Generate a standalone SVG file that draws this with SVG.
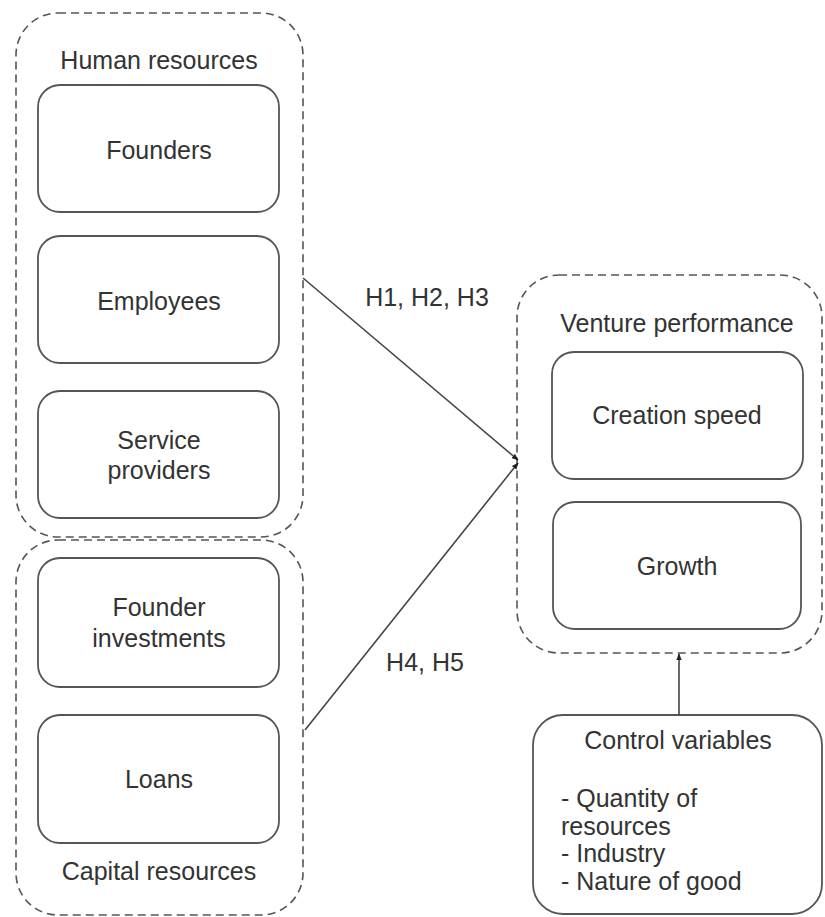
<svg xmlns="http://www.w3.org/2000/svg" width="825" height="917" viewBox="0 0 825 917">
<style>
.grp{fill:none;stroke:#555;stroke-width:1.6;stroke-dasharray:8 5}
.box{fill:#fff;stroke:#555;stroke-width:1.8}
.t{font-family:"Liberation Sans",Arial,sans-serif;font-size:25px;fill:#333;text-anchor:middle;dominant-baseline:central}
.tl{font-family:"Liberation Sans",Arial,sans-serif;font-size:25px;fill:#333}
.edge{fill:none;stroke:#444;stroke-width:1.6}
</style>
<defs>
<marker id="ah" viewBox="0 0 10 10" refX="9" refY="5" markerWidth="7" markerHeight="7" orient="auto" markerUnits="userSpaceOnUse">
<path d="M0,1 L10,5 L0,9 z" fill="#222"/>
</marker>
</defs>
<rect width="825" height="917" fill="#fff"/>
<g id="human-resources">
<rect class="grp" x="16" y="13" width="287" height="524" rx="42"/>
<text class="t" x="159" y="60">Human resources</text>
</g>
<g id="capital-resources">
<rect class="grp" x="16" y="540" width="287" height="375" rx="42"/>
<text class="t" x="159" y="871">Capital resources</text>
</g>
<g id="venture-performance">
<rect class="grp" x="517" y="275" width="305" height="378" rx="42"/>
<text class="t" x="677" y="323">Venture performance</text>
</g>
<g id="founders">
<rect class="box" x="38" y="85" width="241" height="127" rx="22"/>
<text class="t" x="159" y="150">Founders</text>
</g>
<g id="employees">
<rect class="box" x="38" y="236" width="241" height="127" rx="22"/>
<text class="t" x="159" y="301">Employees</text>
</g>
<g id="service-providers">
<rect class="box" x="38" y="391" width="241" height="127" rx="22"/>
<text class="t" x="159" y="440">Service</text>
<text class="t" x="159" y="470">providers</text>
</g>
<g id="founder-investments">
<rect class="box" x="38" y="558" width="241" height="129" rx="22"/>
<text class="t" x="159" y="607">Founder</text>
<text class="t" x="159" y="638">investments</text>
</g>
<g id="loans">
<rect class="box" x="38" y="715" width="241" height="128" rx="22"/>
<text class="t" x="159" y="779">Loans</text>
</g>
<g id="creation-speed">
<rect class="box" x="552" y="352" width="251" height="127" rx="22"/>
<text class="t" x="677" y="415">Creation speed</text>
</g>
<g id="growth">
<rect class="box" x="553" y="502" width="248" height="127" rx="22"/>
<text class="t" x="677" y="566">Growth</text>
</g>
<g id="control-variables">
<rect class="box" x="533" y="715" width="289" height="199" rx="30"/>
<text class="t" x="678" y="740">Control variables</text>
<text class="tl" x="561" y="807">- Quantity of</text>
<text class="tl" x="561" y="835">resources</text>
<text class="tl" x="561" y="862">- Industry</text>
<text class="tl" x="561" y="890">- Nature of good</text>
</g>
<g id="connectors">
<line class="edge" x1="303" y1="278" x2="518" y2="460" marker-end="url(#ah)"/>
<line class="edge" x1="305" y1="730" x2="518" y2="463" marker-end="url(#ah)"/>
<line class="edge" x1="679" y1="715" x2="679" y2="654" marker-end="url(#ah)"/>
<text class="t" x="427" y="297">H1, H2, H3</text>
<text class="t" x="425" y="662">H4, H5</text>
</g>
</svg>
